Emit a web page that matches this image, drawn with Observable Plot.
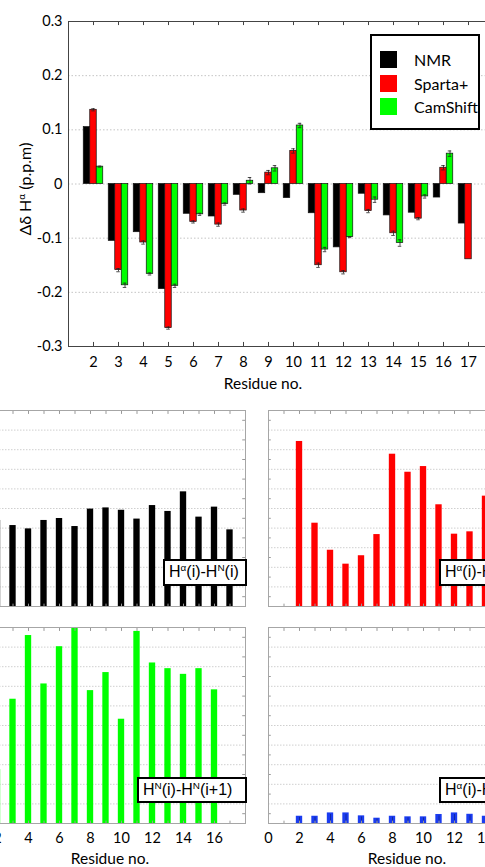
<!DOCTYPE html>
<html><head><meta charset="utf-8">
<script src="https://cdn.jsdelivr.net/npm/d3@7"></script>
<script src="https://cdn.jsdelivr.net/npm/@observablehq/plot@0.6"></script>
<style>
html,body{margin:0;padding:0;background:#fff;overflow:hidden;}
#wrap{position:relative;width:485px;height:867px;overflow:hidden;font-family:Lato,"Open Sans",sans-serif;color:#000;}
.abs{position:absolute;}
.abs svg{max-width:none !important;}
.lbl{position:absolute;font-family:"Liberation Sans",Arial,sans-serif;font-size:16px;border:2px solid #000;background:#fff;box-sizing:border-box;line-height:22px;padding-left:4px;white-space:nowrap;color:#000;}
.lbl sup,.ylab sup{font-size:0.62em;vertical-align:0.6em;line-height:0;}
.ctr{position:absolute;transform:translate(-50%,-50%);white-space:nowrap;font-size:15.5px;}
.ylab{position:absolute;transform:translate(-50%,-50%) rotate(-90deg);white-space:nowrap;font-size:16px;}
.legend{position:absolute;border:2px solid #000;background:#fff;box-sizing:border-box;}
.legend .row{position:absolute;left:8px;height:17px;display:flex;align-items:center;font-size:16px;}
.legend .sw{width:17px;height:17px;margin-right:17px;}
</style></head><body><div id="wrap"></div>
<script>
// ---------- Top panel data (Δδ Hα, p.p.m) ----------
const residues = [2,3,4,5,6,7,8,9,10,11,12,13,14,15,16,17];
const seriesNames = ["NMR","Sparta+","CamShift"];
const seriesColors = ["#000000","#ff0000","#00ff00"];
const nmr        = [0.105,-0.105,-0.089,-0.194,-0.055,-0.060,-0.020,-0.017,-0.026,-0.054,-0.117,-0.018,-0.058,-0.053,-0.025,-0.073];
const sparta     = [0.137,-0.159,-0.108,-0.266,-0.070,-0.075,-0.049, 0.021, 0.061,-0.150,-0.163,-0.050,-0.091,-0.064, 0.030,-0.139];
const spartaErr  = [0.002, 0.003, 0.003, 0.002, 0.002, 0.003, 0.003, 0.004, 0.004, 0.004, 0.003, 0.003, 0.004, 0.002, 0.004, 0];
const camshift   = [0.032,-0.187,-0.166,-0.188,-0.056,-0.037, 0.006, 0.029, 0.108,-0.121,-0.098,-0.029,-0.109,-0.023, 0.056, null];
const camshiftErr= [0.001, 0.004, 0.002, 0.003, 0.002, 0.002, 0.006, 0.005, 0.004, 0.004, 0.001, 0.005, 0.006, 0.003, 0.005, null];
const yTicksTop = [-0.3,-0.2,-0.1,0,0.1,0.2,0.3];
const yGridTop  = [-0.2,-0.1,0,0.1,0.2];

// ---------- Bottom panels data ----------
const resHaHN  = [2,3,4,5,6,7,8,9,10,11,12,13,14,15,16,17];
const valHaHN  = [4.39,4.13,3.96,4.39,4.49,4.08,4.97,5.03,4.91,4.46,5.15,4.85,5.85,4.56,5.07,3.91];
const resHaHN1 = [2,3,4,5,6,7,8,9,10,11,12,13,14];
const valHaHN1 = [8.42,4.25,2.87,2.16,2.59,3.67,7.77,6.85,7.14,5.19,3.69,3.81,5.63];
const resHNHN  = [2,3,4,5,6,7,8,9,10,11,12,13,14,15,16];
const valHNHN  = [2.75,6.34,9.59,7.12,9.02,10.0,6.78,7.70,5.32,9.80,8.19,7.90,7.61,7.90,6.82];
const resHaHN3 = [2,3,4,5,6,7,8,9,10,11,12,13,14];
const valHaHN3 = [0.37,0.37,0.54,0.54,0.39,0.27,0.37,0.34,0.34,0.46,0.54,0.47,0.37];
const panelTickLabels = [0,2,4,6,8,10,12,14,16];
const panelTicks = [0,1,2,3,4,5,6,7,8,9,10,11,12,13,14,15,16,17,18];
const panelGrid = [1,2,3,4,5,6,7,8,9];
const panelSideTicks = [0.5,1.5,2.5,3.5,4.5,5.5,6.5,7.5,8.5,9.5];

const wrap = document.getElementById("wrap");
const baseStyle = {fontFamily:"Lato, 'Open Sans', sans-serif", fontSize:"14.5px", color:"#000", background:"transparent", overflow:"visible", maxWidth:"none"};
function place(node, left, top, w){
  const d = document.createElement("div");
  d.className = "abs"; d.style.left = left + "px"; d.style.top = top + "px"; d.style.width = w + "px";
  d.appendChild(node); wrap.appendChild(d);
}
function addHTML(cls, html, css){
  const d = document.createElement("div"); d.className = cls; d.innerHTML = html;
  Object.assign(d.style, css); wrap.appendChild(d); return d;
}

// ---------- Top panel ----------
const rows = [];
[nmr, sparta, camshift].forEach((vals, k) => {
  vals.forEach((v, i) => { if (v != null) rows.push({r: residues[i], v, k}); });
});
const errRows = [];
[[sparta, spartaErr, 1],[camshift, camshiftErr, 2]].forEach(([vals, errs, k]) => {
  vals.forEach((v, i) => { if (v != null && errs[i] > 0) errRows.push({c: residues[i] - 0.26 + 0.26*k, v, e: errs[i]}); });
});
const capRows = errRows.flatMap(d => [{c:d.c, y:d.v - d.e}, {c:d.c, y:d.v + d.e}]);

const topPlot = Plot.plot({
  width: 500, height: 400,
  marginLeft: 68, marginRight: 7, marginTop: 21, marginBottom: 54,
  x: {domain: [1, 18]},
  y: {domain: [-0.3, 0.3]},
  style: baseStyle,
  marks: [
    Plot.ruleY(yGridTop, {stroke: "#c4c4c4", strokeDasharray: "1.5,2"}),
    ...[0,1,2].map(k => Plot.rect(rows.filter(d => d.k === k), {
      x1: d => d.r - 0.39 + 0.26*k, x2: d => d.r - 0.13 + 0.26*k,
      y1: () => 0, y2: "v", fill: seriesColors[k], stroke: "#111", strokeWidth: 0.7
    })),
    Plot.ruleX(errRows, {x: "c", y1: d => d.v - d.e, y2: d => d.v + d.e, stroke: "#222", strokeWidth: 0.8}),
    Plot.ruleY(capRows, {y: "y", x1: d => d.c - 0.07, x2: d => d.c + 0.07, stroke: "#222", strokeWidth: 0.8}),
    Plot.ruleX(residues, {y1: () => 0.3, y2: () => 0.2925, stroke: "#444"}),
    Plot.ruleX(residues, {y1: () => -0.3, y2: () => -0.2925, stroke: "#444"}),
    Plot.frame({stroke: "#444"}),
    Plot.axisY(yTicksTop, {tickSize: 0, tickPadding: 6, label: null, tickFormat: d => d === 0 ? "0" : d.toFixed(1)}),
    Plot.axisX(residues, {tickSize: 0, tickPadding: 10, label: null, tickFormat: d => String(d)})
  ]
});
place(topPlot, 0, 0, 500);
addHTML("ylab", "Δδ H<sup>α</sup> (p.p.m)", {left: "24px", top: "189px"});
addHTML("ctr", "Residue no.", {left: "263px", top: "383px"});

// legend
const lg = addHTML("legend", "", {left: "370px", top: "34px", width: "110px", height: "96px"});
seriesNames.forEach((name, k) => {
  const row = document.createElement("div"); row.className = "row";
  row.style.top = (15 + k*23.5) + "px";
  row.innerHTML = `<div class="sw" style="background:${seriesColors[k]}"></div><span>${name}</span>`;
  lg.appendChild(row);
});

// ---------- Bottom panels ----------
function panel({res, vals, color, frameLeft, top, bottomRow, extra}) {
  const data = res.map((r, i) => ({r, v: vals[i]}));
  const h = bottomRow ? 252 : 216;
  const marks = [
    Plot.ruleY(panelGrid, {stroke: "#cfcfcf", strokeDasharray: "1.5,1.5"}),
    Plot.rect(data, {x1: d => d.r - 0.205, x2: d => d.r + 0.205, y1: () => 0, y2: "v", fill: color}),
    ...(extra ? extra(data) : []),
    Plot.ruleX(panelTicks, {y1: () => 10, y2: () => 9.8, stroke: "#999"}),
    Plot.ruleX(panelTicks, {y1: () => 0, y2: () => 0.12, stroke: "#999"}),
    Plot.ruleY(panelSideTicks, {x1: () => 0, x2: () => 0.18, stroke: "#999"}),
    Plot.ruleY(panelSideTicks, {x1: () => 17.82, x2: () => 18, stroke: "#999"}),
    Plot.frame({stroke: "#a6a6a6"})
  ];
  if (bottomRow) marks.push(Plot.axisX(panelTickLabels, {tickSize: 0, tickPadding: 9, label: null, tickFormat: d => String(d)}));
  const svg = Plot.plot({
    width: 324, height: h, marginLeft: 40, marginRight: 5, marginTop: 10, marginBottom: h - 10 - 196,
    x: {domain: [0, 18], ...(bottomRow ? {} : {axis: null})},
    y: {domain: [0, 10], axis: null},
    style: baseStyle, marks
  });
  place(svg, frameLeft - 40, top, 324);
}
panel({res: resHaHN,  vals: valHaHN,  color: "#000000", frameLeft: -33.7, top: 400, bottomRow: false});
panel({res: resHaHN1, vals: valHaHN1, color: "#ff0000", frameLeft: 268,   top: 400, bottomRow: false});
panel({res: resHNHN,  vals: valHNHN,  color: "#00ff00", frameLeft: -33.7, top: 617, bottomRow: true});
panel({res: resHaHN3, vals: valHaHN3, color: "#1a3cf0", frameLeft: 268,   top: 617, bottomRow: true,
  extra: data => [Plot.ruleX(data, {x: "r", y1: d => d.v * 0.25, y2: d => d.v * 0.85, stroke: "#0a1a70", strokeOpacity: 0.6, strokeWidth: 1})]});

addHTML("lbl", "H<sup>α</sup>(i)-H<sup>N</sup>(i)",   {left: "163px", top: "559px", width: "84px",  height: "27px"});
addHTML("lbl", "H<sup>α</sup>(i)-H<sup>N</sup>(i+1)", {left: "439px", top: "559px", width: "110px", height: "27px"});
addHTML("lbl", "H<sup>N</sup>(i)-H<sup>N</sup>(i+1)", {left: "137px", top: "777px", width: "110px", height: "26px"});
addHTML("lbl", "H<sup>α</sup>(i)-H<sup>N</sup>(i+3)", {left: "439px", top: "777px", width: "110px", height: "26px"});
addHTML("ctr", "Residue no.", {left: "110px", top: "858px"});
addHTML("ctr", "Residue no.", {left: "407px", top: "858px"});
</script></body></html>
